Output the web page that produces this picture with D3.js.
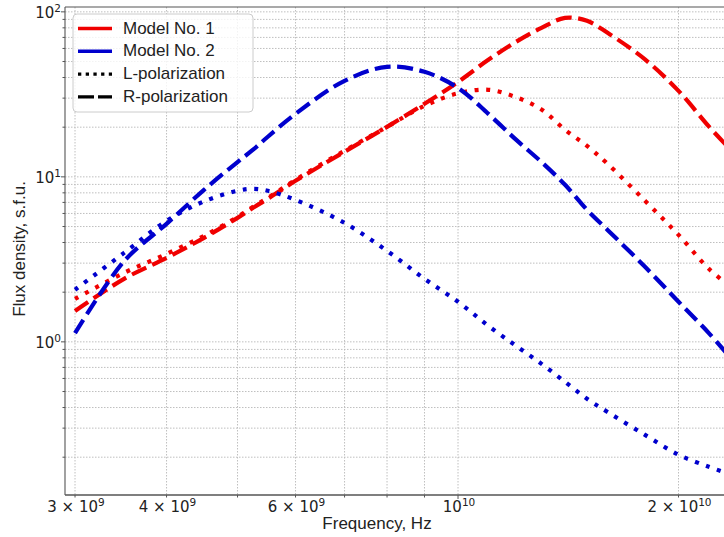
<!DOCTYPE html>
<html>
<head>
<meta charset="utf-8">
<script src="https://cdn.jsdelivr.net/npm/d3@7"></script>
<style>
    body { margin: 0; background: #fff; }
    svg { display: block; }
</style>
</head>
<body>
<svg id="chart" width="724" height="537"></svg>
<script>
// Frecuencias en GHz (eje x, escala logaritmica)
const freqGHz = [3.0, 3.5, 4, 4.5, 5, 5.25, 5.5, 6, 7, 8, 9, 10, 11, 12, 13, 14, 15, 16, 18, 20, 22, 23.5];

// Densidad de flujo (s.f.u.)
const model1R = [1.54, 2.41, 3.23, 4.27, 5.64, 6.49, 7.36, 9.46, 14.2, 20.1, 27.7, 37.6, 51.2, 65.8, 80.0, 92.0, 88.2, 74.6, 51.5, 33.2, 20.2, 14.8];
const model1L = [1.82, 2.62, 3.41, 4.39, 5.72, 6.58, 7.46, 9.59, 14.4, 20.1, 26.9, 32.1, 33.7, 30.4, 25.6, 19.3, 15.4, 12.0, 7.16, 4.45, 2.77, 2.18];
const model2R = [1.13, 3.08, 5.19, 8.34, 12.3, 14.6, 17.5, 24.1, 38.2, 46.4, 43.3, 34.6, 24.1, 16.8, 12.3, 8.95, 6.31, 4.77, 2.85, 1.75, 1.13, 0.81];
const model2L = [2.07, 3.46, 5.41, 7.1, 8.23, 8.46, 8.23, 7.25, 5.26, 3.56, 2.41, 1.75, 1.25, 0.946, 0.736, 0.572, 0.452, 0.376, 0.273, 0.207, 0.175, 0.158];

// Ticks
const xGridValues = [3e9, 4e9, 5e9, 6e9, 7e9, 8e9, 9e9, 1e10, 2e10];
const xLabelValues = [3e9, 4e9, 6e9, 1e10, 2e10];
const xLabelMantissa = ["3", "4", "6", "", "2"];
const xLabelExponent = ["9", "9", "9", "10", "10"];
const yMajorValues = [1, 10, 100];
const yLabelExponent = ["0", "1", "2"];

const legendLabels = ["Model No. 1", "Model No. 2", "L-polarization", "R-polarization"];

const RED = "#f00000";
const BLUE = "#0000cd";
const DASHED = "16,6.5";
const DOTTED = "4,7.6";

const svg = d3.select("#chart");

const x = d3.scaleLog().domain([2.907e9, 2.5e10]).range([65, 749.5]);
const y = d3.scaleLog().domain([0.118, 107]).range([495, 7]);

const plotLeft = 65, plotRight = 724, plotTop = 7, plotBottom = 495;

// Lineas de rejilla (mayores y menores)
function yGridValues() {
    const vals = [];
    [0.1, 1, 10].forEach(base => {
        for (let k = 1; k <= 9; k++) {
            const v = base * k;
            if (v >= 0.118 && v <= 107) vals.push(v);
        }
    });
    vals.push(100);
    return vals;
}

const grid = svg.append("g");
grid.selectAll("line.gx")
    .data(xGridValues)
    .enter()
    .append("line")
    .attr("x1", d => x(d)).attr("x2", d => x(d))
    .attr("y1", plotTop).attr("y2", plotBottom)
    .attr("stroke", "#b8b8b8")
    .attr("stroke-width", 0.9)
    .attr("stroke-dasharray", "1.5,1.5");

grid.selectAll("line.gy")
    .data(yGridValues())
    .enter()
    .append("line")
    .attr("x1", plotLeft).attr("x2", plotRight)
    .attr("y1", d => y(d)).attr("y2", d => y(d))
    .attr("stroke", "#b8b8b8")
    .attr("stroke-width", 0.9)
    .attr("stroke-dasharray", "1.5,1.5");

// Curvas
svg.append("clipPath").attr("id", "clip")
    .append("rect")
    .attr("x", plotLeft).attr("y", plotTop)
    .attr("width", plotRight - plotLeft + 20).attr("height", plotBottom - plotTop);

const series = [
    { values: model1R, color: RED, dash: DASHED },
    { values: model1L, color: RED, dash: DOTTED },
    { values: model2R, color: BLUE, dash: DASHED },
    { values: model2L, color: BLUE, dash: DOTTED }
];

const line = d3.line()
    .x(d => x(d[0] * 1e9))
    .y(d => y(d[1]))
    .curve(d3.curveCatmullRom.alpha(0.5));

const curves = svg.append("g").attr("clip-path", "url(#clip)");
series.forEach(s => {
    curves.append("path")
        .datum(freqGHz.map((f, i) => [f, s.values[i]]))
        .attr("d", line)
        .attr("fill", "none")
        .attr("stroke", s.color)
        .attr("stroke-width", 4.2)
        .attr("stroke-dasharray", s.dash);
});

// Ejes (spines)
const axisColor = "#555";
svg.append("line")
    .attr("x1", plotLeft).attr("x2", plotLeft)
    .attr("y1", plotTop).attr("y2", plotBottom)
    .attr("stroke", axisColor).attr("stroke-width", 1.1);
svg.append("line")
    .attr("x1", plotLeft).attr("x2", plotRight)
    .attr("y1", plotBottom).attr("y2", plotBottom)
    .attr("stroke", axisColor).attr("stroke-width", 1.3);
svg.append("line")
    .attr("x1", plotLeft).attr("x2", plotRight)
    .attr("y1", plotTop).attr("y2", plotTop)
    .attr("stroke", axisColor).attr("stroke-width", 1.1);

// Marcas de los ejes
svg.selectAll("line.tx")
    .data(xGridValues)
    .enter()
    .append("line")
    .attr("x1", d => x(d)).attr("x2", d => x(d))
    .attr("y1", plotBottom)
    .attr("y2", d => plotBottom + (d === 1e10 ? 4 : 2.5))
    .attr("stroke", axisColor);

svg.selectAll("line.ty")
    .data(yGridValues())
    .enter()
    .append("line")
    .attr("y1", d => y(d)).attr("y2", d => y(d))
    .attr("x1", plotLeft)
    .attr("x2", d => plotLeft - (yMajorValues.includes(d) ? 4 : 2.5))
    .attr("stroke", axisColor);

const tickFont = "DejaVu Sans, sans-serif";
const labelFont = "Liberation Sans, Arial, sans-serif";

// Etiquetas del eje x
xLabelValues.forEach((v, i) => {
    const t = svg.append("text")
        .attr("x", x(v) + 1)
        .attr("y", 512)
        .attr("text-anchor", "middle")
        .attr("font-family", tickFont)
        .attr("font-size", 15)
        .attr("fill", "#222");
    const base = xLabelMantissa[i] ? xLabelMantissa[i] + " \u00d7 10" : "10";
    t.append("tspan").text(base);
    t.append("tspan")
        .attr("dy", -6)
        .attr("font-size", 10.5)
        .text(xLabelExponent[i]);
});

// Etiquetas del eje y
yMajorValues.forEach((v, i) => {
    const t = svg.append("text")
        .attr("x", 61)
        .attr("y", y(v) + 6)
        .attr("text-anchor", "end")
        .attr("font-family", tickFont)
        .attr("font-size", 15)
        .attr("fill", "#222");
    t.append("tspan").text("10");
    t.append("tspan")
        .attr("dy", -6)
        .attr("font-size", 10.5)
        .text(yLabelExponent[i]);
});

// Titulos de los ejes
svg.append("text")
    .attr("x", 377)
    .attr("y", 529)
    .attr("text-anchor", "middle")
    .attr("font-family", labelFont)
    .attr("font-size", 17)
    .attr("fill", "#222")
    .text("Frequency, Hz");

svg.append("text")
    .attr("transform", "translate(25,249) rotate(-90)")
    .attr("text-anchor", "middle")
    .attr("font-family", labelFont)
    .attr("font-size", 17)
    .attr("fill", "#222")
    .text("Flux density, s.f.u.");

// Leyenda
const legend = svg.append("g");
legend.append("rect")
    .attr("x", 73).attr("y", 14)
    .attr("width", 180).attr("height", 98)
    .attr("rx", 4)
    .attr("fill", "white")
    .attr("fill-opacity", 0.8)
    .attr("stroke", "#cccccc");

const legendStyles = [
    { color: RED, dash: null },
    { color: BLUE, dash: null },
    { color: "black", dash: "3.3,4.4" },
    { color: "black", dash: "16,4" }
];

legendLabels.forEach((label, i) => {
    const yy = 33.5 + i * 22.8;
    legend.append("line")
        .attr("x1", 78).attr("x2", 112)
        .attr("y1", yy - 5).attr("y2", yy - 5)
        .attr("stroke", legendStyles[i].color)
        .attr("stroke-width", 3.4)
        .attr("stroke-dasharray", legendStyles[i].dash);
    legend.append("text")
        .attr("x", 123)
        .attr("y", yy)
        .attr("font-family", labelFont)
        .attr("font-size", 17)
        .attr("fill", "#222")
        .text(label);
});
</script>
</body>
</html>
